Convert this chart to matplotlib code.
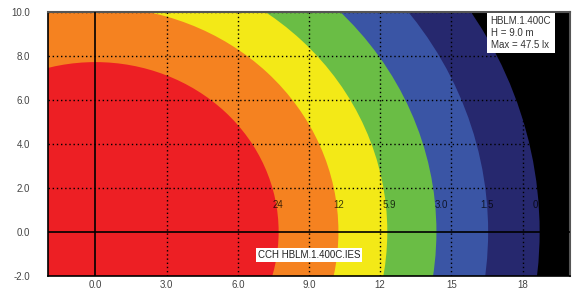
import matplotlib
matplotlib.use("Agg")
import matplotlib.pyplot as plt
from matplotlib.patches import Circle

plt.rcParams['font.family'] = ['Liberation Sans', 'DejaVu Sans']

# isolux zones, outermost first (radius in m from the fixture)
radii = [18.72, 16.55, 14.37, 12.3, 10.24, 7.72]
zone_colors = ["#26286e", "#3a55a5", "#6abd45", "#f3e917", "#f58220", "#ed1f24"]
levels = ["0", "1.5", "3.0", "5.9", "12", "24"]
label_x = [18.55, 16.5, 14.6, 12.4, 10.25, 7.67]
label_y = 1.23

xticks = [0, 3, 6, 9, 12, 15, 18]
xtick_labels = ["0.0", "3.0", "6.0", "9.0", "12", "15", "18"]
yticks = [-2, 0, 2, 4, 6, 8, 10]
ytick_labels = ["-2.0", "0.0", "2.0", "4.0", "6.0", "8.0", "10.0"]

fig = plt.figure(figsize=(5.79, 2.93), dpi=100)
ax = fig.add_axes([48/579, 1 - 275.7/293, 522/579, 263.7/293])
ax.set_facecolor("black")

for r, c in zip(radii, zone_colors):
    ax.add_patch(Circle((0, 0), r, facecolor=c, edgecolor="none", zorder=1))

for x, lab in zip(label_x, levels):
    ax.text(x, label_y, lab, ha="center", va="center", fontsize=7,
            color="black", alpha=0.75, zorder=4)

ax.set_xlim(-2, 20)
ax.set_ylim(-2, 10)

for x in xticks[1:]:
    ax.axvline(x, color="black", lw=1.0, ls=(0, (1, 2)), zorder=2)
for y in yticks[2:]:
    ax.axhline(y, color="black", lw=1.0, ls=(0, (1, 2)), zorder=2)
ax.axvline(0, color="black", lw=1.2, zorder=3)
ax.axhline(0, color="black", lw=1.2, zorder=3)

ax.set_xticks(xticks)
ax.set_xticklabels(xtick_labels)
ax.set_yticks(yticks)
ax.set_yticklabels(ytick_labels)
ax.tick_params(length=0, labelsize=7, labelcolor="#444444")
ax.tick_params(axis="x", pad=3)
ax.tick_params(axis="y", pad=13)

for s in ["top", "right"]:
    ax.spines[s].set_color("#555555")
    ax.spines[s].set_linewidth(1.5)
for s in ["left", "bottom"]:
    ax.spines[s].set_color("black")
    ax.spines[s].set_linewidth(1.2)

ax.text(0.848, 0.985, "HBLM.1.400C\nH = 9.0 m\nMax = 47.5 lx", transform=ax.transAxes,
        ha="left", va="top", fontsize=7, color="#333333", linespacing=1.25, zorder=5,
        bbox=dict(facecolor="white", edgecolor="none", boxstyle="square,pad=0.35"))
ax.text(9.0, -1.06, "CCH HBLM.1.400C.IES", ha="center", va="center", fontsize=7,
        color="#222222", zorder=5,
        bbox=dict(facecolor="white", edgecolor="none", boxstyle="square,pad=0.2"))

fig.savefig("out.png", dpi=100)
